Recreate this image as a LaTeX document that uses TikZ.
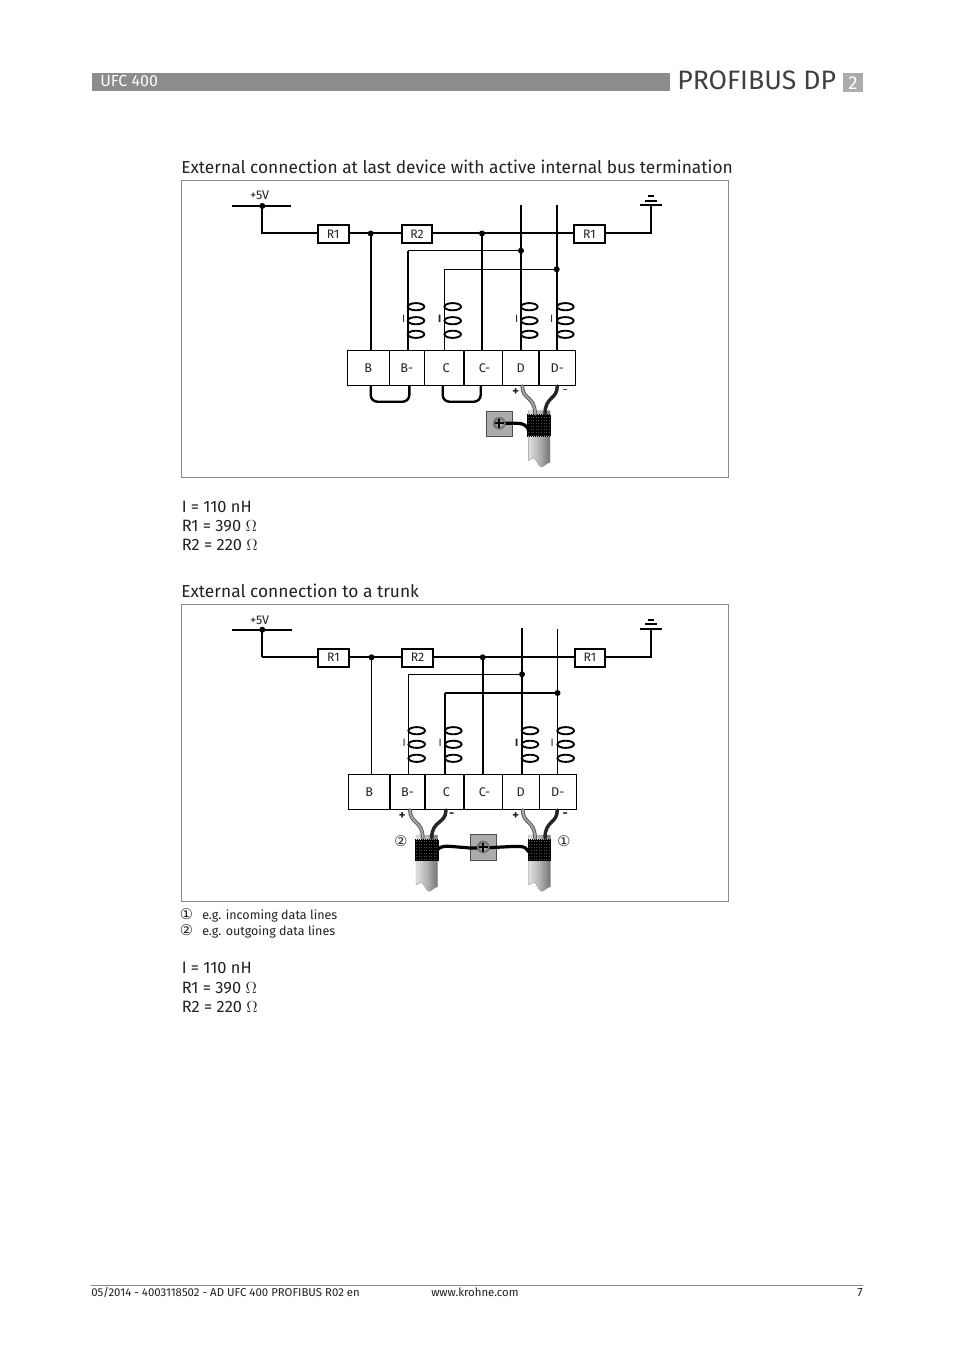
\documentclass[tikz,border=0pt]{standalone}
\usepackage{fontspec}
\setmainfont{Fira Sans}
\newfontfamily\symf{DejaVu Sans}
\newcommand{\fsz}[1]{\fontsize{#1}{#1}\selectfont}
\definecolor{ink}{HTML}{222222}
\definecolor{headbar}{HTML}{8C8C8C}
\definecolor{framec}{HTML}{8A8A8A}
\definecolor{boxgray}{HTML}{ABABAB}
\tikzset{
  hw/.style={line width=1.5pt,draw=black},
  lw/.style={line width=0.8pt,draw=black},
  frm/.style={draw=framec,line width=0.6pt},
  dot/.style={circle,fill=black,inner sep=0pt,minimum size=4.5pt},
  res/.style={draw=black,line width=1.5pt,fill=white,inner sep=0pt,minimum width=23pt,minimum height=13.5pt,font=\fsz{9.2}\color{ink}},
  tb/.style={draw=black,line width=1pt,fill=white},
  tlab/.style={font=\fsz{9.5}\color{ink},inner sep=0pt},
  small/.style={font=\fsz{9.4}\color{ink},inner sep=0pt},
  body/.style={font=\fsz{12.3}\color{ink},inner sep=0pt,anchor=base west},
  head/.style={font=\fsz{13}\color{ink},inner sep=0pt,anchor=base west},
  note/.style={font=\fsz{9.4}\color{ink},inner sep=0pt,anchor=base west},
  foot/.style={font=\fsz{8.55}\color{ink},inner sep=0pt,anchor=base west},
  coil/.style={draw=black,line width=1.4pt,fill=white},
  gwire/.style={draw=black!65,line width=2.8pt,line cap=round},
  gwirei/.style={draw=black!35,line width=1.4pt,line cap=round},
  dwire/.style={draw=black!85,line width=2.6pt,line cap=round},
  bwire/.style={draw=black,line width=2.4pt,line cap=round},
  loopw/.style={draw=black,line width=1.8pt,rounded corners=5pt},
  coilmark/.style={font=\fsz{8}\color{ink},inner sep=0pt},
}
% x, top of a cable
\newcommand{\cable}[2]{%
  \path[left color=black!12,right color=black!55,middle color=black!30,draw=black!40,line width=0.3pt]
    (#1,#2) -- ({#1+21.7},#2) -- ({#1+21.7},{#2+51.6})
    .. controls ({#1+18},{#2+52.5}) and ({#1+15},{#2+56.5}) .. ({#1+13},{#2+56.3})
    .. controls ({#1+10},{#2+56}) and ({#1+8},{#2+48}) .. ({#1+5},{#2+47})
    -- (#1,{#2+50}) -- cycle;
  \fill[black] ({#1-1},{#2+4.5}) rectangle ({#1+22.5},{#2+25.5});
  \foreach \cx in {0,2,...,22}{\fill[black] ({#1-1+\cx},{#2+3.7}) rectangle ++(1,1);\fill[black] ({#1-1+\cx},{#2+25.3}) rectangle ++(1,1);}
  \foreach \cy in {6,9,...,24}{\draw[black!70,line width=0.3pt,dash pattern=on 0.7pt off 1.2pt] ({#1},{#2+\cy}) -- ({#1+21.7},{#2+\cy});}
}
\newcommand{\coils}[4]{%
  \draw[coil] (#1,#2) ellipse [x radius=8.3,y radius=3.6];
  \draw[coil] (#1,#3) ellipse [x radius=8.3,y radius=3.6];
  \draw[coil] (#1,#4) ellipse [x radius=8.3,y radius=3.6];
}
\newcommand{\screw}[2]{%
  \shade[inner color=black!20,outer color=black!60,draw=black!55,line width=0.5pt] (#1,#2) circle (6);
  \draw[line width=1.7pt,black] ({#1-4.5},#2) -- ({#1+4.5},#2) ({#1},{#2-4.5}) -- ({#1},{#2+4.5});
}
\begin{document}
\begin{tikzpicture}[x=0.75pt,y=-0.75pt]
\useasboundingbox[fill=white] (0,0) rectangle (954,1351);

% ---------- header
\fill[headbar] (92,73) rectangle (670,91);
\node[font=\fsz{12}\color{white},inner sep=0pt,anchor=base west] (hdl) at (100,87) {UFC 400};
\node[font=\fsz{20}\color{black!75},inner sep=0pt,anchor=base west] (hdr) at (677,90) {PROFIBUS DP};
\fill[boxgray] (843,73) rectangle (863,92);
\node[font=\fsz{14}\color{white},inner sep=0pt,anchor=base] (hdn) at (853,90) {2};

\node[head] (t1) at (181,174) {External connection at last device with active internal bus termination};

% ---------- diagram 1
\draw[frm] (181,180) rectangle (728,477);
\coordinate (a5v) at (262.3,206);
\coordinate (a5l) at (232,206);
\coordinate (a5r) at (291,206);
\coordinate (agt) at (651,205);
\coordinate (ag1) at (640,205);
\coordinate (ag2) at (662,205);
\coordinate (act) at (651,233.5);
\coordinate (acn) at (262.3,233.5);
\coordinate (aJ1) at (370.7,233.5);
\coordinate (aJ2) at (482,233.5);
\coordinate (aJ3) at (521,250.7);
\coordinate (aJ4) at (556.7,269.3);
\coordinate (aDt) at (521,205);
\coordinate (aEt) at (556.7,205);
\coordinate (aB1) at (408,250.7);
\coordinate (aC1) at (444.3,269.3);
\coordinate (atop) at (0,350.7);
\coordinate (abot) at (0,385.3);
\draw[lw] (a5l) -- (a5r);
\draw[hw] (a5v) -- (acn) -- (act) -- (agt);
\draw[lw] (ag1) -- (ag2);
\draw[line width=1.6pt] (645,200.8) -- (657,200.8);
\draw[line width=0.8pt] (648,196) -- (654,196);
\draw[hw] (aDt) -- (aDt |- atop);
\draw[hw] (aEt) -- (aEt |- atop);
\draw[hw] (aJ1) -- (aJ1 |- atop);
\draw[hw] (aJ2) -- (aJ2 |- atop);
\draw[lw] (aJ3) -- (aB1);
\draw[hw] (aB1) -- (aB1 |- atop);
\draw[lw] (aJ4) -- (aC1);
\draw[lw] (aC1) -- (aC1 |- atop);
\node[res] (aR1) at (333.2,234) {R1};
\node[res] (aR2) at (417,234) {R2};
\node[res] (aR3) at (589.5,234) {R1};
\foreach \n in {a5v,aJ1,aJ2,aJ3,aJ4} \node[dot] at (\n) {};
\node[small,anchor=base] (a5t) at (259.5,200) {+5V};
\coils{416}{306.7}{320.7}{334.3}
\coils{452.7}{306.7}{320.7}{334.3}
\coils{529.3}{306.7}{320.7}{334.3}
\coils{565.3}{306.7}{320.7}{334.3}
\node[coilmark] (aI1) at (403.6,319) {I};
\node[font=\fsz{8}\bfseries\color{ink},inner sep=0pt] (aI2) at (439.8,319) {I};
\node[coilmark] (aI3) at (516.8,319) {I};
\node[coilmark] (aI4) at (551.8,319) {I};
% loops
\draw[loopw] (370.7,385.3) -- (370.7,401.7) -- (409.3,401.7) -- (409.3,385.3);
\draw[loopw] (442.7,385.3) -- (442.7,401.7) -- (480.7,401.7) -- (480.7,385.3);
% terminal block
\draw[tb] (347.3,350.7) rectangle node[tlab] (aTB) {B} (389.3,385.3);
\draw[tb] (389.3,350.7) rectangle node[tlab] (aTBm) {B-} (424.3,385.3);
\draw[tb] (424.3,350.7) rectangle node[tlab,xshift=1.5pt] (aTC) {C} (464,385.3);
\draw[tb] (464,350.7) rectangle node[tlab,xshift=1pt] (aTCm) {C-} (502.3,385.3);
\draw[tb] (502.3,350.7) rectangle node[tlab] (aTD) {D} (539,385.3);
\draw[tb] (539,350.7) rectangle node[tlab] (aTDm) {D-} (575.7,385.3);
\node[font=\fsz{9.5}\bfseries\color{ink},inner sep=0pt] (aPl) at (515.7,392.3) {+};
\node[font=\fsz{8}\color{ink},inner sep=0pt] (aMi) at (565.3,392) {−};
% cable and wires
\cable{528.3}{410.7}
\draw[gwire] (522.3,386) .. controls (522.3,400) and (535,396) .. (535,414);
\draw[gwirei] (522.3,386) .. controls (522.3,400) and (535,396) .. (535,414);
\draw[dwire] (557.3,386) .. controls (557.3,400) and (545,396) .. (545,414);
\draw[fill=boxgray,draw=black!70,line width=0.5pt] (486.7,411.7) rectangle (512.7,436.7);
\draw[bwire] (500,423.3) -- (517,423.3) .. controls (524,423.3) and (527,426) .. (528.5,430);
\screw{499.3}{423.3}

% ---------- texts below 1
\node[body] (a1) at (181.5,512.5) {I = 110 nH};
\node[body] (a2) at (181.5,531.5) {R1 = 390 $\Omega$};
\node[body] (a3) at (181.5,550.5) {R2 = 220 $\Omega$};

\node[head] (t2) at (181,597) {External connection to a trunk};

% ---------- diagram 2
\draw[frm] (181,604) rectangle (728,901);
\coordinate (b5v) at (262.3,629.7);
\coordinate (b5l) at (232,629.7);
\coordinate (b5r) at (291.7,629.7);
\coordinate (bgt) at (651,629);
\coordinate (bg1) at (640,629);
\coordinate (bg2) at (662,629);
\coordinate (bct) at (651,657.3);
\coordinate (bcn) at (262.3,657.3);
\coordinate (bJ1) at (371.5,657.3);
\coordinate (bJ2) at (482.7,657.3);
\coordinate (bJ3) at (522,674.3);
\coordinate (bJ4) at (557.5,693);
\coordinate (bDt) at (522,628.3);
\coordinate (bEt) at (557.5,629);
\coordinate (bB1) at (408.5,674.3);
\coordinate (bC1) at (445,693);
\coordinate (btop) at (0,774.7);
\coordinate (bbot) at (0,809.3);
\draw[hw] (b5l) -- (b5r);
\draw[hw] (bcn) -- (bct) -- (bgt);
\draw[hw] (b5v) -- (bcn);
\draw[hw] (bg1) -- (bg2);
\draw[line width=1.6pt] (645,624.3) -- (657,624.3);
\draw[line width=1.6pt] (648,619.7) -- (654,619.7);
\draw[hw] (bDt) -- (bDt |- btop);
\draw[lw] (bEt) -- (bEt |- btop);
\draw[lw] (bJ1) -- (bJ1 |- btop);
\draw[hw] (bJ2) -- (bJ2 |- btop);
\draw[lw] (bJ3) -- (bB1);
\draw[lw] (bB1) -- (bB1 |- btop);
\draw[hw] (bJ4) -- (bC1);
\draw[hw] (bC1) -- (bC1 |- btop);
\node[res] (bR1) at (333.5,657.5) {R1};
\node[res] (bR2) at (417.5,657.5) {R2};
\node[res] (bR3) at (590,657.5) {R1};
\foreach \n in {b5v,bJ1,bJ2,bJ3,bJ4} \node[dot] at (\n) {};
\node[small,anchor=base] (b5t) at (259.5,624) {+5V};
\coils{416.7}{730.7}{744.3}{758.3}
\coils{453.3}{730.7}{744.3}{758.3}
\coils{530}{730.7}{744.3}{758.3}
\coils{565.7}{730.7}{744.3}{758.3}
\node[coilmark] (bI1) at (404.3,743) {I};
\node[coilmark] (bI2) at (440.3,743) {I};
\node[font=\fsz{8}\bfseries\color{ink},inner sep=0pt] (bI3) at (516.8,743) {I};
\node[coilmark] (bI4) at (552.3,743) {I};
\draw[tb] (348.3,774.7) rectangle node[tlab] (bTB) {B} (390,809.3);
\draw[tb] (390,774.7) rectangle node[tlab] (bTBm) {B-} (425,809.3);
\draw[tb] (425,774.7) rectangle node[tlab,xshift=1.5pt] (bTC) {C} (464,809.3);
\draw[tb] (464,774.7) rectangle node[tlab,xshift=1pt] (bTCm) {C-} (502.3,809.3);
\draw[tb] (502.3,774.7) rectangle node[tlab] (bTD) {D} (539.3,809.3);
\draw[tb] (539.3,774.7) rectangle node[tlab] (bTDm) {D-} (576.3,809.3);
\node[font=\fsz{9.5}\bfseries\color{ink},inner sep=0pt] (bPl1) at (402.3,816) {+};
\node[font=\fsz{9.5}\bfseries\color{ink},inner sep=0pt] (bMi1) at (451.7,815.5) {-};
\node[font=\fsz{9.5}\bfseries\color{ink},inner sep=0pt] (bPl2) at (515.7,816) {+};
\node[font=\fsz{9.5}\bfseries\color{ink},inner sep=0pt] (bMi2) at (565.3,815.5) {-};
\node[font=\symf\fsz{11}\color{ink},inner sep=0pt] (bN2) at (401,841) {②};
\node[font=\symf\fsz{11}\color{ink},inner sep=0pt] (bN1) at (564,841) {①};
\cable{416}{835}
\cable{528.7}{835}
\draw[gwire] (410,810) .. controls (410,824) and (422.7,820) .. (422.7,838);
\draw[gwirei] (410,810) .. controls (410,824) and (422.7,820) .. (422.7,838);
\draw[dwire] (446,810) .. controls (446,824) and (431.7,820) .. (431.7,838);
\draw[gwire] (522.7,810) .. controls (522.7,824) and (535,820) .. (535,838);
\draw[gwirei] (522.7,810) .. controls (522.7,824) and (535,820) .. (535,838);
\draw[dwire] (557.3,810) .. controls (557.3,824) and (545,820) .. (545,838);
\draw[fill=boxgray,draw=black!70,line width=0.5pt] (470.3,834.3) rectangle (496.7,860.7);
\draw[bwire] (438,849) .. controls (442,846) and (445,846) .. (452,846.5) -- (470,848) -- (483,848);
\draw[bwire] (483,848) -- (512,846.5) -- (520,846.5) .. controls (525,846.5) and (527,849) .. (529,852);
\screw{483.3}{847}

% ---------- texts below 2
\node[font=\symf\fsz{11}\color{ink},inner sep=0pt] (l1s) at (186.5,914.5) {①};
\node[note] (l1) at (202,919) {e.g. incoming data lines};
\node[font=\symf\fsz{11}\color{ink},inner sep=0pt] (l2s) at (186.5,930.5) {②};
\node[note] (l2) at (202,935) {e.g. outgoing data lines};
\node[body] (b1) at (181.5,973.5) {I = 110 nH};
\node[body] (b2) at (181.5,993) {R1 = 390 $\Omega$};
\node[body] (b3) at (181.5,1012.5) {R2 = 220 $\Omega$};

% ---------- footer
\draw[draw=framec,line width=0.6pt] (91,1285) -- (863,1285);
\node[foot] (f1) at (91,1296) {05/2014 - 4003118502 - AD UFC 400 PROFIBUS R02 en};
\node[foot] (f2) at (431,1296) {www.krohne.com};
\node[font=\fsz{9}\color{ink},inner sep=0pt,anchor=base east] (f3) at (863,1296) {7};
\end{tikzpicture}
\end{document}
